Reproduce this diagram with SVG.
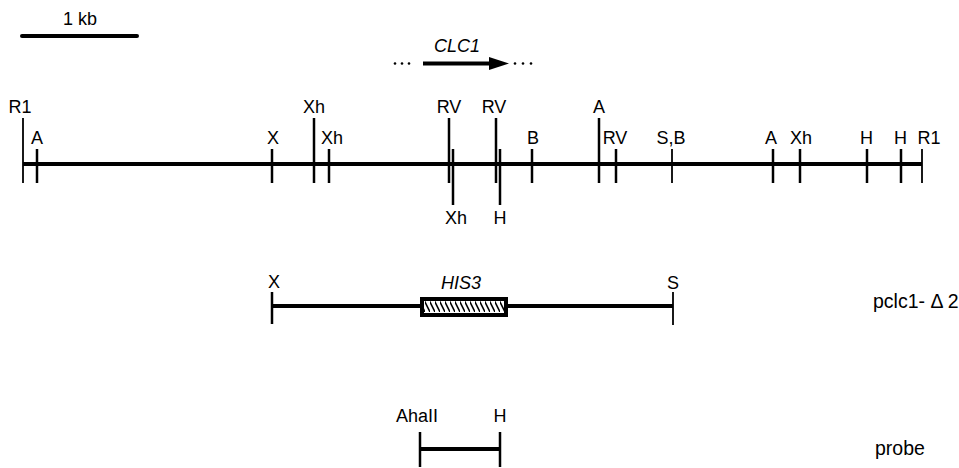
<svg xmlns="http://www.w3.org/2000/svg" width="959" height="468" viewBox="0 0 959 468">
<style>
text{font-family:"Liberation Sans",Arial,sans-serif;font-size:18px;fill:#000;text-anchor:middle}
.it{font-style:italic}
.st{text-anchor:start;font-size:19.5px}
.bar{stroke:#000;stroke-width:4;fill:none}
.tk{stroke:#000;stroke-width:2.5;fill:none}
.tn{stroke:#000;stroke-width:1.8;fill:none}
.dot{fill:#000}
</style>
<defs>
<pattern id="hatch" patternUnits="userSpaceOnUse" width="5" height="12">
<rect width="5" height="12" fill="#fff"/>
<path d="M-1,0 L5,12" stroke="#000" stroke-width="1.6"/>
</pattern>
</defs>
<rect width="959" height="468" fill="#fff"/>

<g id="scale">
<line class="bar" x1="22" y1="36" x2="137" y2="36" stroke-linecap="round"/>
<text x="80" y="25">1 kb</text>
</g>

<g id="clc1">
<circle class="dot" cx="395" cy="63.5" r="1.3"/><circle class="dot" cx="402" cy="63.5" r="1.3"/><circle class="dot" cx="409" cy="63.5" r="1.3"/>
<line class="bar" x1="423" y1="63.5" x2="492" y2="63.5"/>
<polygon points="489,57 509,63.5 489,70" fill="#000"/>
<circle class="dot" cx="515" cy="63.5" r="1.3"/><circle class="dot" cx="523" cy="63.5" r="1.3"/><circle class="dot" cx="531" cy="63.5" r="1.3"/>
<text class="it" x="457" y="52">CLC1</text>
</g>

<g id="map">
<line class="bar" x1="23" y1="164" x2="922" y2="164"/>
<g id="sites">
<line class="tn" x1="23" y1="118" x2="23" y2="183"/>
<line class="tk" x1="37" y1="149" x2="37" y2="183"/>
<line class="tk" x1="272" y1="149" x2="272" y2="183"/>
<line class="tk" x1="314" y1="118" x2="314" y2="183"/>
<line class="tk" x1="329" y1="149" x2="329" y2="183"/>
<line class="tk" x1="449" y1="118" x2="449" y2="183"/>
<line class="tk" x1="453" y1="149" x2="453" y2="205"/>
<line class="tk" x1="496" y1="118" x2="496" y2="183"/>
<line class="tk" x1="500" y1="149" x2="500" y2="205"/>
<line class="tk" x1="532" y1="149" x2="532" y2="183"/>
<line class="tk" x1="599" y1="118" x2="599" y2="183"/>
<line class="tk" x1="616" y1="149" x2="616" y2="183"/>
<line class="tn" x1="672" y1="149" x2="672" y2="183"/>
<line class="tk" x1="773" y1="149" x2="773" y2="183"/>
<line class="tk" x1="800" y1="149" x2="800" y2="183"/>
<line class="tk" x1="867" y1="149" x2="867" y2="183"/>
<line class="tk" x1="901" y1="149" x2="901" y2="183"/>
<line class="tn" x1="922" y1="149" x2="922" y2="183"/>
</g>
<g id="site-labels">
<text x="20" y="113">R1</text>
<text x="314" y="113">Xh</text>
<text x="449" y="113">RV</text>
<text x="494" y="113">RV</text>
<text x="599" y="113">A</text>
<text x="37" y="144">A</text>
<text x="273" y="144">X</text>
<text x="332" y="144">Xh</text>
<text x="533" y="144">B</text>
<text x="615" y="144">RV</text>
<text x="671" y="144">S,B</text>
<text x="771" y="144">A</text>
<text x="801" y="144">Xh</text>
<text x="866.5" y="144">H</text>
<text x="900.5" y="144">H</text>
<text x="929" y="144">R1</text>
<text x="456" y="224">Xh</text>
<text x="500" y="224">H</text>
</g>
</g>

<g id="pclc1">
<line class="bar" x1="272" y1="306" x2="673" y2="306"/>
<line class="tk" x1="272" y1="292" x2="272" y2="324"/>
<line class="tn" x1="673" y1="292" x2="673" y2="325"/>
<rect x="420" y="297" width="88" height="20" fill="#000"/>
<rect x="424" y="301" width="80" height="12" fill="url(#hatch)"/>
<text x="274" y="288">X</text>
<text x="673" y="289">S</text>
<text class="it" x="461" y="289">HIS3</text>
<text class="st" x="873" y="308">pclc1-  Δ 2</text>
</g>

<g id="probe">
<line class="bar" x1="420" y1="449" x2="500" y2="449"/>
<line class="tk" x1="420" y1="432" x2="420" y2="467"/>
<line class="tk" x1="500" y1="432" x2="500" y2="467"/>
<text x="417" y="422">AhaII</text>
<text x="500" y="422">H</text>
<text class="st" x="875" y="455">probe</text>
</g>
</svg>
